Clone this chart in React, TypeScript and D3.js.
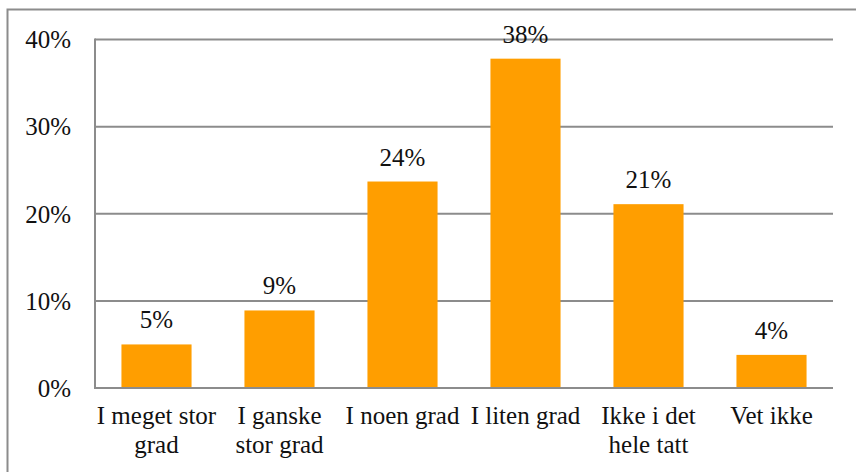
import React from "react";
import * as d3 from "d3";

const categories: string[][] = [
  ["I meget stor", "grad"],
  ["I ganske", "stor grad"],
  ["I noen grad"],
  ["I liten grad"],
  ["Ikke i det", "hele tatt"],
  ["Vet ikke"],
];
const values: number[] = [5.0, 8.9, 23.7, 37.8, 21.1, 3.8];
const valueLabels: string[] = ["5%", "9%", "24%", "38%", "21%", "4%"];
const yTicks: number[] = [0, 10, 20, 30, 40];

const W = 856;
const H = 472;
const left = 95;
const right = 833;
const top = 39.5;
const bottom = 388;
const font = "Liberation Serif, DejaVu Serif";
const fs = 25;

export default function App() {
  const x = d3
    .scaleBand<number>()
    .domain(values.map((_, i) => i))
    .range([left, right])
    .paddingInner(0.43)
    .paddingOuter(0.215);
  const y = d3.scaleLinear().domain([0, 40]).range([bottom, top]);

  return (
    <svg
      width={W}
      height={H}
      style={{ position: "absolute", left: 0, top: 0, background: "#fff" }}
    >
      <rect x={0} y={0} width={W} height={H} fill="#fff" />
      <rect x={7.5} y={9.5} width={W + 20} height={H + 20} fill="none" stroke="#8c8c8c" strokeWidth={2} />
      {yTicks.map((t) => (
        <g key={t}>
          <line x1={left} x2={right} y1={y(t)} y2={y(t)} stroke="#8c8c8c" strokeWidth={2} />
          <text
            x={71}
            y={y(t)}
            dy="0.35em"
            textAnchor="end"
            style={{ fontFamily: font, fontSize: fs }}
            fill="#111"
          >
            {t}%
          </text>
        </g>
      ))}
      <line x1={left} x2={left} y1={top - 1} y2={bottom + 1} stroke="#8c8c8c" strokeWidth={2} />
      {values.map((v, i) => (
        <g key={i}>
          <rect
            x={x(i)!}
            y={y(v)}
            width={x.bandwidth()}
            height={bottom - 1 - y(v)}
            fill="#FF9E00"
          />
          <text
            x={x(i)! + x.bandwidth() / 2}
            y={y(v) - 16}
            textAnchor="middle"
            style={{ fontFamily: font, fontSize: fs }}
            fill="#111"
          >
            {valueLabels[i]}
          </text>
          {categories[i].map((line, j) => (
            <text
              key={j}
              x={x(i)! + x.bandwidth() / 2}
              y={424 + j * 29}
              textAnchor="middle"
              style={{ fontFamily: font, fontSize: fs }}
              fill="#111"
            >
              {line}
            </text>
          ))}
        </g>
      ))}
    </svg>
  );
}
